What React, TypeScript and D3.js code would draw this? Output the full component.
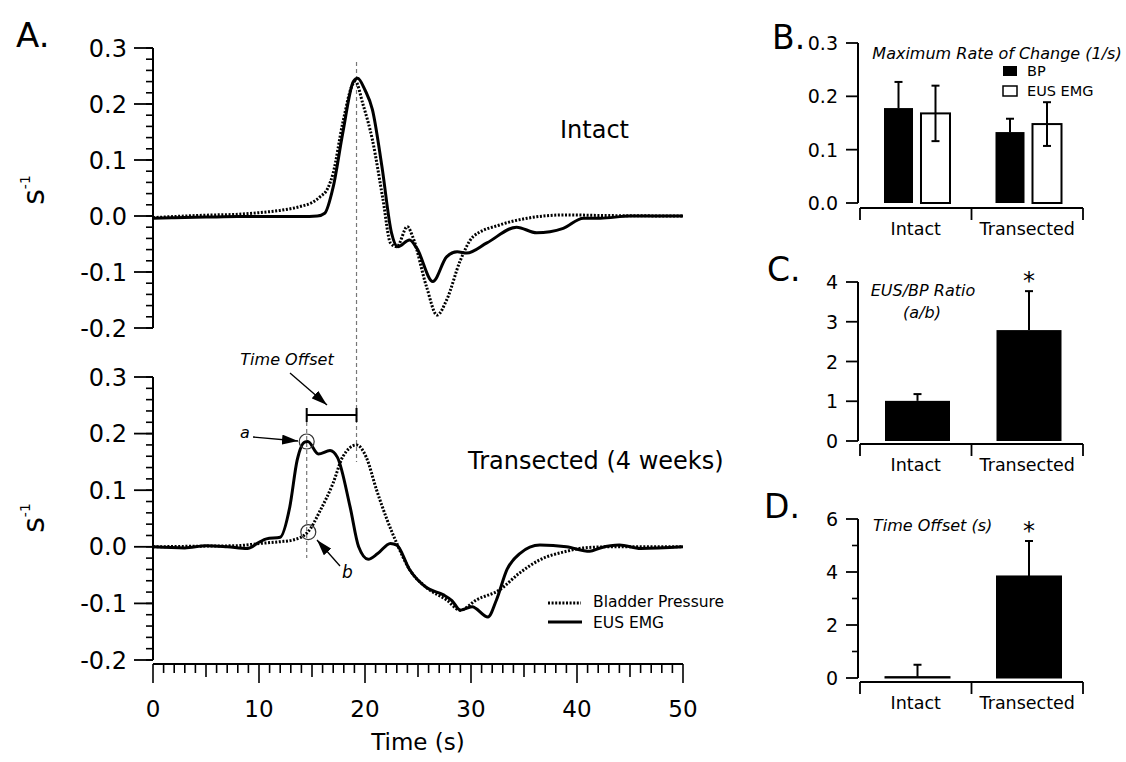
import React from 'react';
import * as d3 from 'd3';

// Panel A traces: time (s) and rate of change (1/s)
const intactEmgT = [0, 2, 5, 8, 11, 14, 15.5, 16.2, 17, 17.9, 18.9, 19.3, 20, 20.7, 21.6, 22.5, 23.1, 24.2, 24.9, 26.4, 27.7, 28.7, 29.6, 31.5, 34.3, 36.2, 38.7, 40.6, 42.2, 45, 50];
const intactEmgV = [-0.004, -0.003, -0.002, -0.001, -0.001, -0.001, 0.0, 0.005, 0.052, 0.148, 0.24, 0.246, 0.225, 0.19, 0.088, -0.03, -0.055, -0.043, -0.058, -0.117, -0.073, -0.064, -0.066, -0.048, -0.02, -0.03, -0.022, -0.004, -0.004, 0, 0];

const intactBpT = [0, 3, 6, 8, 10, 12, 13.9, 15, 15.75, 16.5, 17, 17.9, 18.9, 19.1, 19.8, 20.7, 21.7, 22.4, 23, 24, 24.5, 25.8, 26.8, 27.7, 29, 30.2, 32.7, 35.3, 39, 42, 50];
const intactBpV = [-0.003, 0, 0.002, 0.003, 0.006, 0.01, 0.017, 0.024, 0.034, 0.05, 0.077, 0.166, 0.237, 0.24, 0.2, 0.136, 0.029, -0.048, -0.055, -0.019, -0.037, -0.126, -0.177, -0.15, -0.079, -0.037, -0.016, -0.004, 0.002, 0.001, 0];

const transEmgT = [0, 3, 5, 7, 8.9, 10, 10.7, 12, 12.9, 13.6, 14.3, 14.6, 15.6, 16.7, 17.4, 18.6, 19.4, 20.3, 21.2, 22.4, 23, 24.2, 25.8, 27.4, 28.2, 29, 30.1, 31.6, 32.4, 33.4, 34.6, 36.5, 39, 41.2, 42.2, 44, 46, 50];
const transEmgV = [0, -0.002, 0.002, 0, -0.003, 0.008, 0.014, 0.017, 0.07, 0.153, 0.185, 0.186, 0.164, 0.17, 0.158, 0.07, 0, -0.022, -0.012, 0.006, 0.003, -0.04, -0.072, -0.085, -0.095, -0.112, -0.106, -0.124, -0.094, -0.04, -0.012, 0.003, 0, -0.008, -0.002, 0.003, -0.003, 0];

const transBpT = [0, 4, 8, 10.1, 12, 13.2, 14.6, 15.8, 17, 17.9, 19.2, 20.1, 21.1, 22.1, 23, 24.2, 25.8, 27.7, 29, 30.5, 32.7, 34.6, 36.5, 39, 40.6, 43, 50];
const transBpV = [0, 0.001, 0.002, 0.006, 0.009, 0.012, 0.026, 0.065, 0.113, 0.159, 0.18, 0.159, 0.1, 0.047, 0.006, -0.04, -0.072, -0.094, -0.112, -0.094, -0.076, -0.046, -0.023, -0.008, -0.002, 0, 0];

// annotation times / values
const emgPeakTime = 14.5;
const bpPeakTime = 19.2;
const pointA = 0.186;
const pointB = 0.026;

// Panels B-D
const groups = ['Intact', 'Transected'];
const maxRateBP = [0.178, 0.133];
const maxRateBPErr = [0.049, 0.025];
const maxRateEMG = [0.168, 0.148];
const maxRateEMGErr = [0.052, 0.041];
const ratio = [1.01, 2.79];
const ratioErr = [0.17, 0.98];
const offset = [0.05, 3.85];
const offsetErr = [0.45, 1.32];

const FONT = '"DejaVu Sans", sans-serif';

const zip = (t: number[], v: number[]) => t.map((d, i) => [d, v[i]] as [number, number]);

function YAxisA({ y }: { y: d3.ScaleLinear<number, number> }) {
  const minor = d3.range(-10, 16).map((i) => i * 0.02);
  const major = d3.range(-2, 4).map((i) => i * 0.1);
  return (
    <g>
      <line x1={153} x2={153} y1={y(0.3)} y2={y(-0.2)} stroke="#000" strokeWidth={2} />
      {minor.map((v) => (
        <line key={'m' + v} x1={146} x2={153} y1={y(v)} y2={y(v)} stroke="#000" strokeWidth={1.6} />
      ))}
      {major.map((v) => (
        <g key={'M' + v}>
          <line x1={134} x2={153} y1={y(v)} y2={y(v)} stroke="#000" strokeWidth={1.8} />
          <text x={127} y={y(v) + 8.5} textAnchor="end" fontSize={24} fontFamily={FONT}>
            {d3.format('.1f')(v).replace('−', '-')}
          </text>
        </g>
      ))}
    </g>
  );
}

function UnitLabel({ x, y }: { x: number; y: number }) {
  return (
    <text transform={`translate(${x},${y}) rotate(-90)`} textAnchor="middle" fontFamily={FONT} fontSize={30}>
      s
      <tspan fontSize={14} dy={-14}>-1</tspan>
    </text>
  );
}

interface BarPanelProps {
  y: d3.ScaleLinear<number, number>;
  axisY: number;
  majorTicks: number[];
  minorTicks: number[];
  fmt: (v: number) => string;
  children?: React.ReactNode;
}

const x0 = d3.scaleBand<string>().domain(groups).range([860, 1083]);

function BarAxes({ y, axisY, majorTicks, minorTicks, fmt, children }: BarPanelProps) {
  const [lo, hi] = y.domain();
  return (
    <g>
      <line x1={858} x2={858} y1={y(hi)} y2={y(lo)} stroke="#000" strokeWidth={2} />
      {minorTicks.map((v) => (
        <line key={'m' + v} x1={852} x2={858} y1={y(v)} y2={y(v)} stroke="#000" strokeWidth={1.6} />
      ))}
      {majorTicks.map((v) => (
        <g key={'M' + v}>
          <line x1={846} x2={858} y1={y(v)} y2={y(v)} stroke="#000" strokeWidth={1.8} />
          <text x={838} y={y(v) + 7} textAnchor="end" fontSize={19} fontFamily={FONT}>
            {fmt(v)}
          </text>
        </g>
      ))}
      <line x1={860} x2={1083} y1={axisY} y2={axisY} stroke="#000" strokeWidth={2} />
      {[860, x0('Transected')!, 1083].map((xx) => (
        <line key={xx} x1={xx} x2={xx} y1={axisY} y2={axisY + 12} stroke="#000" strokeWidth={1.8} />
      ))}
      {groups.map((g) => (
        <text key={g} x={x0(g)! + x0.bandwidth() / 2} y={axisY + 27} textAnchor="middle" fontSize={17.5} fontFamily={FONT}>
          {g}
        </text>
      ))}
      {children}
    </g>
  );
}

function ErrBar({ x, y0, y1, y2 }: { x: number; y0: number; y1: number; y2?: number }) {
  const top = y1;
  const bottom = y2 === undefined ? y0 : y2;
  return (
    <g stroke="#000" strokeWidth={2}>
      <line x1={x} x2={x} y1={top} y2={bottom} />
      <line x1={x - 4} x2={x + 4} y1={top} y2={top} />
      {y2 !== undefined && <line x1={x - 4} x2={x + 4} y1={bottom} y2={bottom} />}
    </g>
  );
}

export default function App() {
  const xA = d3.scaleLinear().domain([0, 50]).range([153, 683]);
  const yTop = d3.scaleLinear().domain([-0.2, 0.3]).range([328, 48]);
  const yBot = d3.scaleLinear().domain([-0.2, 0.3]).range([660, 377]);

  const lineTop = d3
    .line<[number, number]>()
    .x((d) => xA(d[0]))
    .y((d) => yTop(d[1]))
    .curve(d3.curveMonotoneX);
  const lineBot = d3
    .line<[number, number]>()
    .x((d) => xA(d[0]))
    .y((d) => yBot(d[1]))
    .curve(d3.curveMonotoneX);

  const dotted = '2 1.6';

  const yB = d3.scaleLinear().domain([0, 0.3]).range([203, 43]);
  const yC = d3.scaleLinear().domain([0, 4]).range([441, 282]);
  const yD = d3.scaleLinear().domain([0, 6]).range([678, 519]);
  const x1 = d3.scaleBand<string>().domain(['BP', 'EMG']).range([24, 90]).paddingInner(0.216);
  const xs = d3.scaleBand<string>().domain(['v']).range([25, 90]);

  const xTicks = d3.range(0, 51, 1);
  const offsetY = 415;

  return (
    <svg width={1126} height={762} style={{ position: 'absolute', left: 0, top: 0, background: '#fff' }}>
      <defs>
        <marker id="ah" viewBox="0 0 16 10" refX={16} refY={5} markerWidth={16} markerHeight={10} markerUnits="userSpaceOnUse" orient="auto">
          <path d="M0,0 L16,5 L0,10 z" fill="#000" />
        </marker>
      </defs>

      {/* Panel A */}
      <text x={16} y={47} fontSize={34} fontFamily={FONT}>A.</text>
      <YAxisA y={yTop} />
      <YAxisA y={yBot} />
      <UnitLabel x={44} y={190} />
      <UnitLabel x={44} y={518} />

      {/* x axis */}
      <line x1={xA(0)} x2={xA(50)} y1={664} y2={664} stroke="#000" strokeWidth={2} />
      {xTicks.map((t) => (
        <line key={t} x1={xA(t)} x2={xA(t)} y1={664} y2={t % 10 === 0 ? 683 : t % 5 === 0 ? 677 : 673} stroke="#000" strokeWidth={1.6} />
      ))}
      {d3.range(0, 51, 10).map((t) => (
        <text key={t} x={xA(t)} y={717} textAnchor="middle" fontSize={23} fontFamily={FONT}>{t}</text>
      ))}
      <text x={xA(25)} y={750} textAnchor="middle" fontSize={23} fontFamily={FONT}>Time (s)</text>

      {/* guide lines */}
      <line x1={xA(bpPeakTime)} x2={xA(bpPeakTime)} y1={62} y2={yBot(0.15)} stroke="#777" strokeWidth={1.2} strokeDasharray="4 3" />
      <line x1={xA(emgPeakTime)} x2={xA(emgPeakTime)} y1={offsetY} y2={yBot(-0.02)} stroke="#777" strokeWidth={1.2} strokeDasharray="4 3" />

      {/* traces */}
      <path d={lineTop(zip(intactBpT, intactBpV))!} fill="none" stroke="#000" strokeWidth={3} strokeDasharray={dotted} />
      <path d={lineTop(zip(intactEmgT, intactEmgV))!} fill="none" stroke="#000" strokeWidth={3} />
      <path d={lineBot(zip(transBpT, transBpV))!} fill="none" stroke="#000" strokeWidth={3} strokeDasharray={dotted} />
      <path d={lineBot(zip(transEmgT, transEmgV))!} fill="none" stroke="#000" strokeWidth={3} />

      <text x={560} y={138} fontSize={24} fontFamily={FONT}>Intact</text>
      <text x={468} y={469} fontSize={24} fontFamily={FONT}>Transected (4 weeks)</text>

      {/* legend */}
      <line x1={548} x2={581} y1={603} y2={603} stroke="#000" strokeWidth={3} strokeDasharray={dotted} />
      <line x1={548} x2={582} y1={622} y2={622} stroke="#000" strokeWidth={3} />
      <text x={593} y={607} fontSize={15.5} fontFamily={FONT}>Bladder Pressure</text>
      <text x={593} y={628} fontSize={15.5} fontFamily={FONT}>EUS EMG</text>

      {/* annotations */}
      <g stroke="#000" strokeWidth={2}>
        <line x1={xA(emgPeakTime)} x2={xA(bpPeakTime)} y1={offsetY} y2={offsetY} />
        <line x1={xA(emgPeakTime)} x2={xA(emgPeakTime)} y1={offsetY - 7} y2={offsetY + 7} />
        <line x1={xA(bpPeakTime)} x2={xA(bpPeakTime)} y1={offsetY - 7} y2={offsetY + 7} />
      </g>
      <circle cx={xA(emgPeakTime)} cy={yBot(pointA)} r={7.5} fill="none" stroke="#333" strokeWidth={1.2} />
      <circle cx={xA(emgPeakTime + 0.15)} cy={yBot(pointB)} r={7.5} fill="none" stroke="#333" strokeWidth={1.2} />
      <text x={287} y={365} textAnchor="middle" fontSize={16} fontStyle="italic" fontFamily={FONT}>Time Offset</text>
      <line x1={290} y1={373} x2={327} y2={405} stroke="#000" strokeWidth={1.3} markerEnd="url(#ah)" />
      <text x={240} y={438} fontSize={16} fontStyle="italic" fontFamily={FONT}>a</text>
      <line x1={253} y1={437} x2={298} y2={441} stroke="#000" strokeWidth={1.3} markerEnd="url(#ah)" />
      <text x={342} y={578} fontSize={17} fontStyle="italic" fontFamily={FONT}>b</text>
      <line x1={340} y1={566} x2={317} y2={540} stroke="#000" strokeWidth={1.3} markerEnd="url(#ah)" />

      {/* Panel B */}
      <text x={772} y={49} fontSize={33} fontFamily={FONT}>B.</text>
      <BarAxes y={yB} axisY={208} majorTicks={[0, 0.1, 0.2, 0.3]} minorTicks={[]} fmt={d3.format('.1f')}>
        {groups.map((g, i) => {
          const bx = x0(g)! + x1('BP')!;
          const ex = x0(g)! + x1('EMG')!;
          const w = x1.bandwidth();
          return (
            <g key={g}>
              <ErrBar x={bx + w / 2} y0={yB(maxRateBP[i])} y1={yB(maxRateBP[i] + maxRateBPErr[i])} />
              <rect x={bx} y={yB(maxRateBP[i])} width={w} height={yB(0) - yB(maxRateBP[i])} fill="#000" />
              <rect x={ex} y={yB(maxRateEMG[i])} width={w} height={yB(0) - yB(maxRateEMG[i])} fill="#fff" stroke="#000" strokeWidth={2} />
              <ErrBar x={ex + w / 2} y0={yB(maxRateEMG[i])} y1={yB(maxRateEMG[i] + maxRateEMGErr[i])} y2={yB(maxRateEMG[i] - maxRateEMGErr[i])} />
            </g>
          );
        })}
      </BarAxes>
      <text x={997} y={59} textAnchor="middle" fontSize={16} fontStyle="italic" fontFamily={FONT}>Maximum Rate of Change (1/s)</text>
      <rect x={1003} y={66} width={14} height={10} fill="#000" />
      <rect x={1003} y={86} width={14} height={10} fill="#fff" stroke="#000" strokeWidth={1.5} />
      <text x={1027} y={76} fontSize={14.5} fontFamily={FONT}>BP</text>
      <text x={1027} y={96} fontSize={14.5} fontFamily={FONT}>EUS EMG</text>

      {/* Panel C */}
      <text x={767} y={281} fontSize={33} fontFamily={FONT}>C.</text>
      <BarAxes y={yC} axisY={444} majorTicks={[0, 1, 2, 3, 4]} minorTicks={[]} fmt={d3.format('d')}>
        {groups.map((g, i) => {
          const bx = x0(g)! + xs('v')!;
          const w = xs.bandwidth();
          return (
            <g key={g}>
              <ErrBar x={bx + w / 2} y0={yC(ratio[i])} y1={yC(ratio[i] + ratioErr[i])} />
              <rect x={bx} y={yC(ratio[i])} width={w} height={yC(0) - yC(ratio[i])} fill="#000" />
            </g>
          );
        })}
      </BarAxes>
      <text x={923} y={296} textAnchor="middle" fontSize={16} fontStyle="italic" fontFamily={FONT}>EUS/BP Ratio</text>
      <text x={922} y={318} textAnchor="middle" fontSize={16} fontStyle="italic" fontFamily={FONT}>(a/b)</text>
      <text x={x0('Transected')! + xs('v')! + xs.bandwidth() / 2} y={yC(ratio[1] + ratioErr[1]) - 2} textAnchor="middle" fontSize={24} fontFamily={FONT}>*</text>

      {/* Panel D */}
      <text x={764} y={518} fontSize={33} fontFamily={FONT}>D.</text>
      <BarAxes y={yD} axisY={682} majorTicks={[0, 2, 4, 6]} minorTicks={[1, 3, 5]} fmt={d3.format('d')}>
        {groups.map((g, i) => {
          const bx = x0(g)! + xs('v')!;
          const w = xs.bandwidth();
          return (
            <g key={g}>
              <ErrBar x={bx + w / 2} y0={yD(offset[i])} y1={yD(offset[i] + offsetErr[i])} />
              <rect x={bx} y={yD(offset[i])} width={w} height={Math.max(1, yD(0) - yD(offset[i]))} fill="#000" stroke="#000" strokeWidth={1} />
            </g>
          );
        })}
      </BarAxes>
      <text x={873} y={531} fontSize={16} fontStyle="italic" fontFamily={FONT}>Time Offset (s)</text>
      <text x={x0('Transected')! + xs('v')! + xs.bandwidth() / 2} y={yD(offset[1] + offsetErr[1]) - 2} textAnchor="middle" fontSize={24} fontFamily={FONT}>*</text>
    </svg>
  );
}
